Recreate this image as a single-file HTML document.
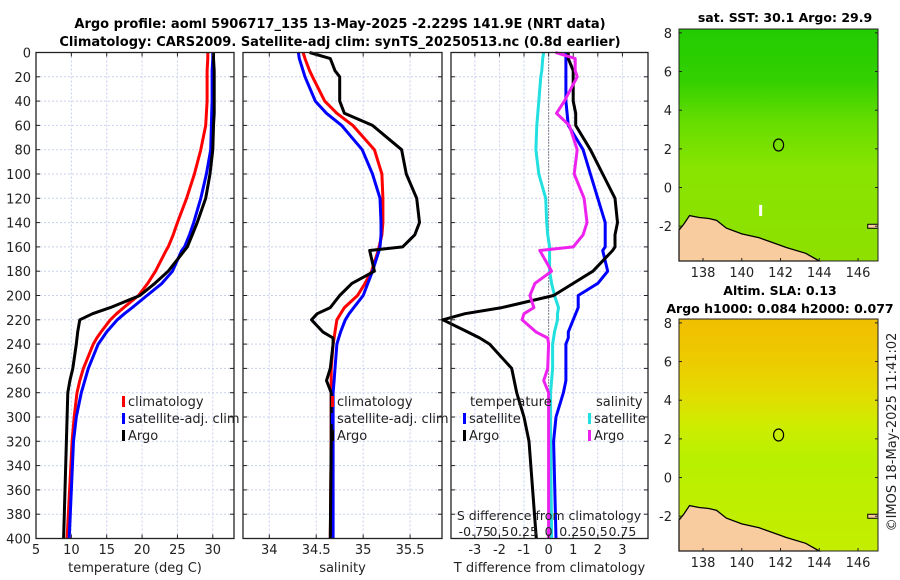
<!DOCTYPE html>
<html><head><meta charset="utf-8">
<style>
body{margin:0;background:#fff;}
svg{display:block;font-family:"DejaVu Sans","Liberation Sans",sans-serif;}
</style></head>
<body>
<svg id="fig" width="900" height="580" viewBox="0 0 900 580">
<defs>
<linearGradient id="sstGrad" x1="0" y1="0" x2="0" y2="1">
<stop offset="0" stop-color="#22cc00"/><stop offset="0.22" stop-color="#33d000"/>
<stop offset="0.4" stop-color="#66dd00"/><stop offset="0.6" stop-color="#88e400"/>
<stop offset="1" stop-color="#8ee000"/></linearGradient>
<linearGradient id="slaGrad" x1="0" y1="0" x2="0" y2="1">
<stop offset="0" stop-color="#f0bf00"/><stop offset="0.15" stop-color="#eec800"/>
<stop offset="0.3" stop-color="#e6d800"/><stop offset="0.45" stop-color="#cfec00"/>
<stop offset="0.6" stop-color="#b8f000"/><stop offset="1" stop-color="#c4ee00"/></linearGradient>
</defs>
<g id="root"></g>
</svg>
<script>
// ---- data (depth in m) ----
const depths = [0,5,15,20,40,50,60,80,100,120,140,150,160,163,180,190,200,210,215,220,230,235,240,260,270,280,300,320,400];
const tempClim = [29.3,29.3,29.2,29.2,29.2,29.1,29.0,28.3,27.4,26.3,25.0,24.4,23.7,23.4,21.9,20.8,19.5,17.4,16.4,15.5,14.2,13.6,13.1,11.7,11.2,10.8,10.4,10.1,9.4];
const tempSat  = [30.0,30.0,29.9,29.9,29.9,29.85,29.8,29.7,29.1,28.3,27.3,26.7,26.0,25.6,24.3,22.8,20.7,18.6,17.5,16.5,15.0,14.4,13.8,12.4,11.9,11.4,10.7,10.3,9.7];
const tempArgo = [30.1,30.1,30.2,30.2,30.2,30.2,30.1,30.0,29.6,29.0,27.8,27.1,26.4,26.0,23.7,21.8,19.7,15.5,13.0,11.2,10.9,10.8,10.7,10.2,9.8,9.5,9.4,9.3,8.9];
const salClim = [34.36,34.38,34.43,34.46,34.59,34.72,34.89,35.12,35.20,35.21,35.21,35.20,35.17,35.16,35.09,35.02,34.94,34.80,34.76,34.72,34.70,34.69,34.68,34.66,34.66,34.66,34.66,34.66,34.65];
const salSat  = [34.31,34.32,34.36,34.38,34.49,34.61,34.77,34.99,35.10,35.18,35.19,35.19,35.18,35.17,35.10,35.05,35.00,34.90,34.85,34.81,34.76,34.74,34.72,34.70,34.69,34.68,34.68,34.68,34.68];
const salArgo = [34.43,34.65,34.70,34.75,34.75,34.80,35.10,35.41,35.46,35.57,35.60,35.55,35.42,35.07,35.12,34.88,34.75,34.65,34.51,34.45,34.57,34.68,34.68,34.65,34.61,34.66,34.66,34.66,34.65];
const depthTicks = [0,20,40,60,80,100,120,140,160,180,200,220,240,260,280,300,320,340,360,380,400];
const tempTicks = [5,10,15,20,25,30];
const salTicks = [34,34.5,35,35.5];
const salTickLabels = ["34","34.5","35","35.5"];
const dtTicks = [-3,-2,-1,0,1,2,3];
const dsTickLabels = ["-0.75","0.5","0.25","0","0.25","0.5","0.75"];
const latTicks = [8,6,4,2,0,-2];
const lonTicks = [138,140,142,144,146];
const argoLon = 141.9, argoLat = 2.2;
const coastLon = [136.76,137.0,137.3,137.8,138.3,138.7,139.2,140.0,140.9,141.6,142.3,143.3,144.0];
const coastLat = [-2.2,-1.9,-1.45,-1.55,-1.6,-1.7,-2.1,-2.4,-2.6,-2.85,-3.1,-3.4,-3.8];

const NS="http://www.w3.org/2000/svg";
const root=document.getElementById('root');
function el(tag,attrs,parent){const e=document.createElementNS(NS,tag);for(const k in attrs)e.setAttribute(k,attrs[k]);(parent||root).appendChild(e);return e;}
function txt(s,x,y,attrs,parent){const t=el('text',Object.assign({x:x,y:y,'font-size':13,fill:'#222'},attrs||{}),parent);t.textContent=s;return t;}

const Y0=52.5,Y1=538.5;
function yD(d){return Y0+(d/400)*(Y1-Y0);}
function mkX(x0,x1,a,b){return v=>x0+(v-a)/(b-a)*(x1-x0);}

const panels=[
 {name:'temperature-panel',x0:36,x1:234,a:5,b:33,ticks:tempTicks,labels:tempTicks.map(String),xlabel:'temperature (deg C)'},
 {name:'salinity-panel',x0:243,x1:442,a:33.72,b:35.84,ticks:salTicks,labels:salTickLabels,xlabel:'salinity'},
 {name:'difference-panel',x0:451,x1:648,a:-3.97,b:4.04,ticks:dtTicks,labels:dtTicks.map(String),xlabel:'T difference from climatology'}
];

function frame(p){
 const g=el('g',{});
 
 
 const X=mkX(p.x0,p.x1,p.a,p.b);p.X=X;
 el('rect',{x:p.x0,y:Y0,width:p.x1-p.x0,height:Y1-Y0,fill:'#fff'},g);
 for(const t of p.ticks){const x=X(t);el('line',{x1:x,x2:x,y1:Y0,y2:Y1,stroke:'#c8d0ee','stroke-width':1,'stroke-dasharray':'2,2'},g);}
 for(const d of depthTicks){const y=yD(d);el('line',{x1:p.x0,x2:p.x1,y1:y,y2:y,stroke:'#c8d0ee','stroke-width':1,'stroke-dasharray':'2,2'},g);}
 p.g=g;return g;
}
function axes(p,showY){
 const g=p.g,X=p.X;
 el('rect',{x:p.x0,y:Y0,width:p.x1-p.x0,height:Y1-Y0,fill:'none',stroke:'#222','stroke-width':1.3},g);
 for(const d of depthTicks){const y=yD(d);
  el('line',{x1:p.x0,x2:p.x0+4,y1:y,y2:y,stroke:'#222'},g);el('line',{x1:p.x1-4,x2:p.x1,y1:y,y2:y,stroke:'#222'},g);
  if(showY){const t=txt(String(d),31,y+5,{'text-anchor':'end'},g);}}
 p.ticks.forEach((t,i)=>{const x=X(t);
  el('line',{x1:x,x2:x,y1:Y1-4,y2:Y1,stroke:'#222'},g);el('line',{x1:x,x2:x,y1:Y0,y2:Y0+4,stroke:'#222'},g);
  const l=txt(p.labels[i],x,554,{'text-anchor':'middle'},g);});
 const xl=txt(p.xlabel,(p.x0+p.x1)/2,572,{'text-anchor':'middle'},g);
 
}
function line(p,vals,color,name,w){
 const pts=depths.map((d,i)=>p.X(vals[i]).toFixed(1)+','+yD(d).toFixed(1)).join(' ');
 const l=el('polyline',{points:pts,fill:'none',stroke:color,'stroke-width':w||3,'stroke-linejoin':'round'},p.g);
 
}
function legendItem(g,x,y,color,label,name){
 el('rect',{x:x,y:y-10,width:3,height:11,fill:color},g);
 const t=txt(label,x+6,y,{},g);
 
}

// panel 1
frame(panels[0]);
line(panels[0],tempClim,'#ff0000','temp-climatology-line');
line(panels[0],tempSat,'#0000ff','temp-satellite-line');
line(panels[0],tempArgo,'#000000','temp-argo-line');
axes(panels[0],true);
legendItem(panels[0].g,122,406,'#ff0000','climatology','legend-climatology');
legendItem(panels[0].g,122,423,'#0000ff','satellite-adj. clim','legend-satellite');
legendItem(panels[0].g,122,440,'#000000','Argo','legend-argo');
// panel 2
frame(panels[1]);
line(panels[1],salClim,'#ff0000','sal-climatology-line');
line(panels[1],salSat,'#0000ff','sal-satellite-line');
line(panels[1],salArgo,'#000000','sal-argo-line');
axes(panels[1],false);
legendItem(panels[1].g,331,406,'#ff0000','climatology','legend-climatology-2');
legendItem(panels[1].g,331,423,'#0000ff','satellite-adj. clim','legend-satellite-2');
legendItem(panels[1].g,331,440,'#000000','Argo','legend-argo-2');
// panel 3 (differences)
const p3=panels[2];frame(p3);
const zx=p3.X(0);
el('line',{x1:zx,x2:zx,y1:Y0,y2:Y1,stroke:'#222','stroke-width':1,'stroke-dasharray':'1,2'},p3.g);
const dTsat=tempSat.map((v,i)=>v-tempClim[i]);
const dTargo=tempArgo.map((v,i)=>v-tempClim[i]);
const dSsat=salSat.map((v,i)=>(v-salClim[i])*4);
const dSargo=salArgo.map((v,i)=>(v-salClim[i])*4);
line(p3,dSsat,'#22e0e0','sal-satellite-diff-line');
line(p3,dTsat,'#0000ff','temp-satellite-diff-line');
line(p3,dTargo,'#000000','temp-argo-diff-line');
line(p3,dSargo,'#ee22ee','sal-argo-diff-line');
axes(p3,false);
txt('temperature',470,406,{},p3.g);
txt('salinity',596,406,{},p3.g);
legendItem(p3.g,463,423,'#0000ff','satellite','legend-temp-satellite');
legendItem(p3.g,463,440,'#000000','Argo','legend-temp-argo');
legendItem(p3.g,588,423,'#22e0e0','satellite','legend-sal-satellite');
legendItem(p3.g,588,440,'#ee22ee','Argo','legend-sal-argo');
const st=txt('S difference from climatology',549,520,{'text-anchor':'middle','font-size':12.5},p3.g);

dtTicks.forEach((t,i)=>{const l=txt(dsTickLabels[i],p3.X(t),536,{'text-anchor':'middle','font-size':12.5},p3.g);
 });

// titles
const t1=txt('Argo profile: aoml 5906717_135 13-May-2025 -2.229S 141.9E (NRT data)',340,28,{'text-anchor':'middle','font-weight':'bold','font-size':13,fill:'#000'});

const t2=txt('Climatology: CARS2009. Satellite-adj clim: synTS_20250513.nc (0.8d earlier)',340,46,{'text-anchor':'middle','font-weight':'bold','font-size':13,fill:'#000'});


// maps
const MX0=679,MX1=878,LON0=136.76,LON1=147.03;
function mkMap(name,top,bottom,fill,titles){
 const g=el('g',{});
 const LAT0=8.2,LAT1=-3.8;
 const X=v=>MX0+(v-LON0)/(LON1-LON0)*(MX1-MX0);
 const Y=v=>top+(LAT0-v)/(LAT0-LAT1)*(bottom-top);
 el('rect',{x:MX0,y:top,width:MX1-MX0,height:bottom-top,fill:fill},g);
 let pts=coastLon.map((lo,i)=>X(lo).toFixed(1)+','+Y(coastLat[i]).toFixed(1));
 pts.push(X(coastLon[0]).toFixed(1)+','+Y(-3.8).toFixed(1));
 const land=el('polygon',{points:pts.join(' '),fill:'#f9cc9f',stroke:'#000','stroke-width':1.3},g);
 
 el('rect',{x:X(146.5),y:Y(-1.9),width:MX1-X(146.5),height:4,fill:'#f9cc9f',stroke:'#000','stroke-width':1},g);
 const c=el('ellipse',{cx:X(argoLon),cy:Y(argoLat),rx:5,ry:6,fill:'none',stroke:'#000','stroke-width':1.2},g);
 
 el('rect',{x:MX0,y:top,width:MX1-MX0,height:bottom-top,fill:'none',stroke:'#222','stroke-width':1},g);
 for(const la of latTicks){const y=Y(la);el('line',{x1:MX0,x2:MX0+3,y1:y,y2:y,stroke:'#222'},g);el('line',{x1:MX1-3,x2:MX1,y1:y,y2:y,stroke:'#222'},g);
  const l=txt(String(la),672,y+5,{'text-anchor':'end'},g);}
 for(const lo of lonTicks){const x=X(lo);el('line',{x1:x,x2:x,y1:bottom-3,y2:bottom,stroke:'#222'},g);
  const l=txt(String(lo),x,bottom+16,{'text-anchor':'middle'},g);}
 titles.forEach(tt=>{const l=txt(tt[0],tt[1],tt[2],{'text-anchor':'middle','font-weight':'bold','font-size':12.5,fill:'#000'},g);});
 return {X,Y,g};
}
const m1=mkMap('sst-map',29,261,'url(#sstGrad)',[['sat. SST: 30.1 Argo: 29.9',785,22]]);
el('rect',{x:m1.X(141)-2,y:m1.Y(-0.9),width:3,height:11,fill:'#fff'},m1.g);
mkMap('sla-map',319,551,'url(#slaGrad)',[['Altim. SLA: 0.13',780,295],['Argo h1000: 0.084 h2000: 0.077',780,313]]);
const cr=txt('©IMOS 18-May-2025 11:41:02',0,0,{'font-size':13,'text-anchor':'middle',transform:'translate(896,432) rotate(-90)'});

</script>
</body></html>
